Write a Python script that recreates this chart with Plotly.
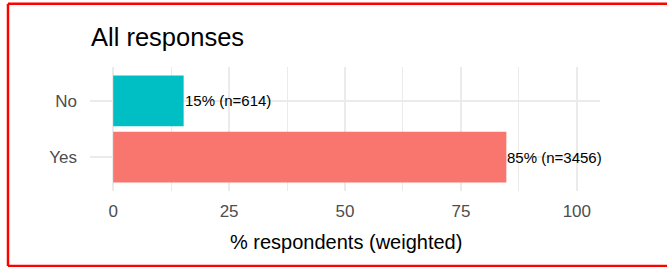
import plotly.graph_objects as go

categories = ["Yes", "No"]
percent_values = [84.8, 15.2]
counts = [3456, 614]
bar_colors = ["#F8766D", "#00BFC4"]
x_tick_values = [0, 25, 50, 75, 100]
x_tick_labels = ["0", "25", "50", "75", "100"]
title_text = "All responses"
x_axis_title = "% respondents (weighted)"

W, H = 667, 267
L, R, T, B = 90, 67, 67, 76
PW, PH = W - L - R, H - T - B
FONT = "Liberation Sans, Arial, sans-serif"


def px(xp):
    return (xp - L) / PW


def py(yp):
    return (H - B - yp) / PH


fig = go.Figure()
fig.add_trace(go.Bar(
    y=categories, x=percent_values, orientation="h",
    marker=dict(color=bar_colors, line=dict(width=0)),
    width=0.9, showlegend=False, hoverinfo="skip",
))

for cat, v, n in zip(categories, percent_values, counts):
    fig.add_annotation(
        x=v, y=cat, xref="x", yref="y", text=f"{round(v)}% (n={n})",
        showarrow=False, xanchor="left", yanchor="middle", xshift=-1,
        font=dict(family=FONT, size=15, color="black"),
    )

fig.add_annotation(
    x=px(89), y=py(37), xref="paper", yref="paper", text=title_text,
    showarrow=False, xanchor="left", yanchor="middle",
    font=dict(family=FONT, size=25.5, color="black"),
)
fig.add_annotation(
    x=px(346), y=py(242), xref="paper", yref="paper", text=x_axis_title,
    showarrow=False, xanchor="center", yanchor="middle",
    font=dict(family=FONT, size=20, color="black"),
)

border = dict(color="#ff0000", width=2.5)
for (xa, ya, xb, yb) in [(8, 3.7, 8, 266), (8, 3.7, 667, 3.7), (8, 266, 667, 266)]:
    fig.add_shape(
        type="line", xref="paper", yref="paper",
        x0=px(xa), y0=py(ya), x1=px(xb), y1=py(yb),
        line=border, layer="above",
    )

fig.update_layout(
    width=W, height=H,
    margin=dict(l=L, r=R, t=T, b=B, pad=0),
    paper_bgcolor="white", plot_bgcolor="white",
    bargap=0.1,
    xaxis=dict(
        range=[-5, 105], tickvals=x_tick_values, ticktext=x_tick_labels,
        showgrid=True, gridcolor="#ebebeb", gridwidth=2.2,
        minor=dict(dtick=12.5, tick0=12.5, showgrid=True, gridcolor="#ebebeb", gridwidth=1.1),
        zeroline=False, showline=False, ticks="",
        tickfont=dict(family=FONT, size=17, color="#4d4d4d"),
        ticklabelstandoff=8, fixedrange=True,
    ),
    yaxis=dict(
        range=[-0.6, 1.6], categoryorder="array", categoryarray=categories,
        showgrid=True, gridcolor="#ebebeb", gridwidth=2.2,
        zeroline=False, showline=False, ticks="",
        tickfont=dict(family=FONT, size=17, color="#4d4d4d"),
        ticklabelstandoff=12, fixedrange=True,
    ),
)

fig.write_html(
    "out.html",
    config={"displayModeBar": False},
    post_script="document.body.style.margin='0';document.body.style.overflow='hidden';",
)
